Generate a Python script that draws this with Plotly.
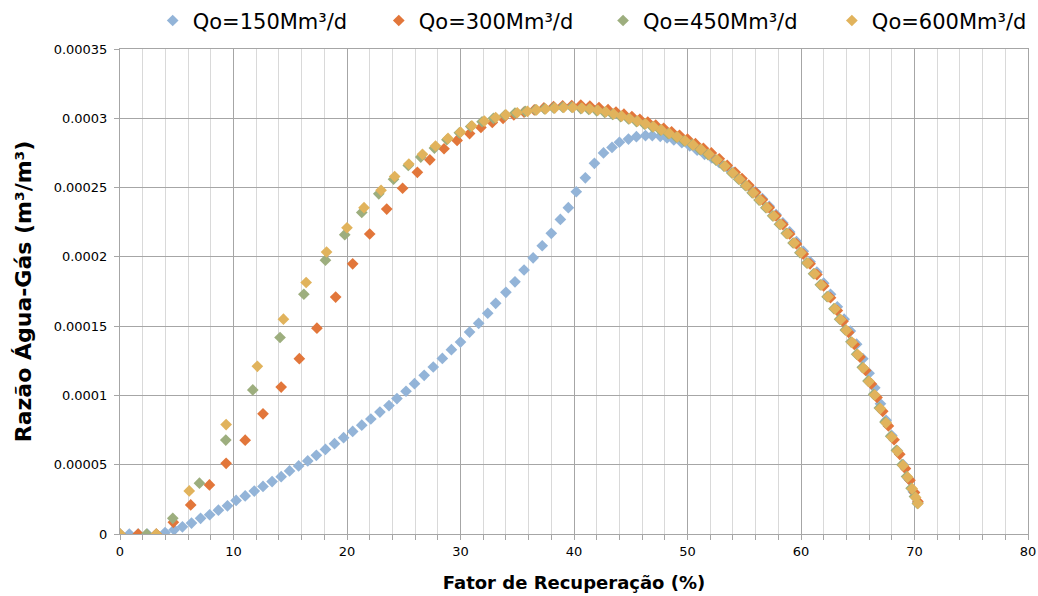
import plotly.graph_objects as go

SCALE = 1e-5  # y values below are given in units of 1e-5 m3/m3

series_names = ["Qo=150Mm³/d", "Qo=300Mm³/d", "Qo=450Mm³/d", "Qo=600Mm³/d"]
series_colors = ["#93B4D8", "#E2763A", "#9DAE7E", "#E1B35C"]

x150 = [0, 0.82, 1.6, 2.4, 3.2, 3.97, 4.77, 5.5, 6.3, 7.1, 7.9, 8.67, 9.47, 10.23, 11.03,
        11.83, 12.6, 13.4, 14.2, 14.94, 15.74, 16.54, 17.3, 18.1, 18.9, 19.7, 20.5, 21.3, 22.1, 22.9,
        23.7, 24.4, 25.2, 25.95, 26.8, 27.6, 28.4, 29.2, 30.0, 30.8, 31.6, 32.4, 33.1, 34.0, 34.8,
        35.6, 36.4, 37.2, 38.0, 38.8, 39.5, 40.2, 41.0, 41.8, 42.6, 43.35, 44.0, 44.8, 45.5, 46.3,
        46.9, 47.6, 48.2, 48.8, 49.5, 50.2,
        50.85, 51.5, 52.15, 52.8, 53.45, 54.1, 54.75, 55.4, 56.0, 56.6, 57.2, 57.8, 58.4, 59.0, 59.6,
        60.2, 60.8, 61.4, 62.0, 62.6, 63.2, 63.8, 64.35, 64.9, 65.45, 66.0, 66.5, 67.0, 67.5, 68.0,
        68.5, 69.0, 69.45, 69.9, 70.3]
y150 = [0, 0, 0, 0, 0, 0.1, 0.3, 0.52, 0.79, 1.13, 1.39, 1.72, 2.03, 2.42, 2.75,
        3.1, 3.43, 3.78, 4.14, 4.55, 4.91, 5.27, 5.68, 6.1, 6.52, 6.95, 7.4, 7.85, 8.3, 8.8,
        9.27, 9.77, 10.3, 10.85, 11.45, 12.05, 12.67, 13.3, 13.85, 14.57, 15.2, 15.93, 16.65, 17.44, 18.2,
        19.05, 19.93, 20.8, 21.7, 22.7, 23.55, 24.7, 25.7, 26.75, 27.5, 27.9, 28.27, 28.5, 28.67, 28.75,
        28.75, 28.7, 28.58, 28.44, 28.24, 28.0,
        27.7, 27.4, 27.15, 26.8, 26.5, 26.1, 25.6, 25.1, 24.7, 24.2, 23.65, 23.05, 22.45, 21.8, 21.1,
        20.4, 19.65, 18.9, 18.1, 17.3, 16.4, 15.5, 14.65, 13.7, 12.65, 11.6, 10.55, 9.4, 8.2, 7.1,
        6.0, 5.0, 4.0, 3.05, 2.25]

x300 = [0, 1.6, 3.2, 4.7, 6.23, 7.88, 9.35, 11.03, 12.6, 14.2, 15.8, 17.35, 19.0, 20.5, 22.0,
        23.5, 24.9, 26.2, 27.3, 28.55, 29.7, 30.8, 31.8, 32.8, 33.75, 34.7, 35.6, 36.5, 37.35, 38.2,
        39.0, 39.8,
        40.6, 41.4, 42.2, 43.0, 43.7, 44.4, 45.1, 45.8, 46.5, 47.2, 47.9, 48.6, 49.3, 50.0, 50.7,
        51.4, 52.1, 52.8, 53.5, 54.2, 54.8, 55.4, 56.0, 56.6, 57.2, 57.8, 58.4, 59.0, 59.6, 60.2,
        60.8, 61.4, 62.0, 62.6, 63.2, 63.7, 64.2, 64.7, 65.2, 65.7, 66.2, 66.7, 67.2, 67.7, 68.2,
        68.7, 69.2, 69.6, 70.0, 70.3]
y300 = [0, 0, 0, 0.84, 2.1, 3.54, 5.1, 6.77, 8.67, 10.6, 12.65, 14.85, 17.1, 19.5, 21.65,
        23.45, 24.95, 26.1, 27.0, 27.8, 28.4, 28.9, 29.34, 29.7, 30.0, 30.25, 30.45, 30.6, 30.75, 30.85,
        30.9, 30.92,
        30.95, 30.88, 30.77, 30.62, 30.45, 30.3, 30.12, 29.93, 29.73, 29.5, 29.28, 29.02, 28.77, 28.5, 28.17,
        27.83, 27.5, 27.08, 26.6, 26.1, 25.65, 25.17, 24.65, 24.12, 23.55, 22.96, 22.33, 21.65, 20.93, 20.2,
        19.5, 18.72, 17.9, 17.05, 16.12, 15.35, 14.55, 13.68, 12.77, 11.8, 10.83, 9.85, 8.85, 7.8, 6.8,
        5.75, 4.72, 3.87, 3.0, 2.35]

x450 = [0, 2.35, 4.65, 7.0, 9.32, 11.7, 14.1, 16.2, 18.1, 19.8, 21.3, 22.8, 24.1, 25.4, 26.5,
        27.7, 28.8, 29.9, 30.9, 31.9, 32.9, 33.9, 34.8, 35.7, 36.6, 37.4, 38.2, 39.0, 39.8,
        40.6, 41.3, 42.0, 42.7, 43.4, 44.1, 44.8, 45.5, 46.2, 46.9, 47.6, 48.3, 49.0, 49.7, 50.4,
        51.1, 51.8, 52.5, 53.2, 53.9, 54.5, 55.1, 55.7, 56.3, 56.9, 57.5, 58.1, 58.7, 59.3, 59.9,
        60.5, 61.1, 61.7, 62.3, 62.9, 63.4, 63.9, 64.4, 64.9, 65.4, 65.9, 66.4, 66.9, 67.4, 67.9,
        68.4, 68.9, 69.3, 69.7, 70.0, 70.25]
y450 = [0, 0, 1.13, 3.67, 6.78, 10.4, 14.18, 17.3, 19.76, 21.6, 23.2, 24.55, 25.6, 26.6, 27.2,
        27.85, 28.45, 28.95, 29.4, 29.75, 30.0, 30.22, 30.38, 30.5, 30.6, 30.68, 30.75, 30.8, 30.8,
        30.7, 30.64, 30.54, 30.42, 30.28, 30.12, 29.95, 29.76, 29.57, 29.37, 29.14, 28.89, 28.63, 28.36, 28.1,
        27.73, 27.38, 26.98, 26.55, 26.05, 25.6, 25.13, 24.62, 24.1, 23.55, 22.96, 22.36, 21.7, 21.0, 20.3,
        19.56, 18.78, 17.98, 17.13, 16.26, 15.5, 14.72, 13.87, 12.98, 12.03, 11.05, 10.08, 9.1, 8.08, 7.06,
        6.04, 5.0, 4.15, 3.3, 2.7, 2.2]

x600 = [0, 3.2, 6.1, 9.35, 12.1, 14.4, 16.4, 18.2, 20.0, 21.5, 23.0, 24.2, 25.45, 26.65, 27.8,
        28.9, 30.0, 31.0, 32.1, 33.1, 34.0, 35.0, 35.9, 36.7, 37.5, 38.3, 39.1, 39.9,
        40.7, 41.4, 42.1, 42.8, 43.5, 44.2, 44.9, 45.6, 46.3, 47.0, 47.7, 48.4, 49.1, 49.8, 50.5,
        51.2, 51.9, 52.6, 53.3, 54.0, 54.6, 55.2, 55.8, 56.4, 57.0, 57.6, 58.2, 58.8, 59.4, 60.0,
        60.6, 61.2, 61.8, 62.4, 63.0, 63.5, 64.0, 64.5, 65.0, 65.5, 66.0, 66.5, 67.0, 67.5, 68.0,
        68.5, 69.0, 69.4, 69.8, 70.1, 70.3]
y600 = [0, 0, 3.11, 7.9, 12.1, 15.5, 18.15, 20.35, 22.1, 23.55, 24.8, 25.8, 26.7, 27.4, 28.0,
        28.55, 29.0, 29.45, 29.8, 30.05, 30.25, 30.4, 30.5, 30.6, 30.67, 30.74, 30.78, 30.78,
        30.74, 30.68, 30.58, 30.46, 30.31, 30.15, 29.98, 29.79, 29.6, 29.4, 29.16, 28.91, 28.66, 28.38, 28.08,
        27.75, 27.4, 27.0, 26.55, 26.05, 25.6, 25.13, 24.62, 24.1, 23.55, 22.95, 22.35, 21.67, 21.0, 20.3,
        19.55, 18.78, 17.97, 17.12, 16.25, 15.48, 14.7, 13.83, 12.95, 11.98, 11.0, 10.03, 9.05, 8.02, 7.0,
        5.98, 4.95, 4.1, 3.27, 2.64, 2.2]

x_tick_vals = [0, 10, 20, 30, 40, 50, 60, 70, 80]
y_tick_vals = [0, 0.00005, 0.0001, 0.00015, 0.0002, 0.00025, 0.0003, 0.00035]
y_tick_text = ["0", "0.00005", "0.0001", "0.00015", "0.0002", "0.00025", "0.0003", "0.00035"]

FONT = "DejaVu Sans"

# one legend per series so each entry sits at its own position in a single row
legend_ids = ["legend", "legend2", "legend3", "legend4"]
legend_x = [0.036, 0.285, 0.532, 0.784]

fig = go.Figure()
for name, color, xs, ys, lid in zip(series_names, series_colors,
                                    [x150, x300, x450, x600], [y150, y300, y450, y600], legend_ids):
    fig.add_trace(go.Scatter(
        x=xs, y=[v * SCALE for v in ys], mode="markers", name=name, legend=lid,
        marker=dict(symbol="diamond", size=9, color=color, line=dict(width=0)),
    ))

legend_common = dict(orientation="h", xanchor="left", yref="container", y=0.965, yanchor="middle",
                     font=dict(family=FONT, size=21, color="#000000"),
                     bgcolor="rgba(0,0,0,0)", borderwidth=0)

layout_legends = {lid: dict(x=lx, **legend_common) for lid, lx in zip(legend_ids, legend_x)}

fig.update_layout(
    width=1038, height=596,
    margin=dict(l=120, r=10, t=49, b=62, autoexpand=False),
    paper_bgcolor="white", plot_bgcolor="white",
    font=dict(family=FONT, color="#000000", size=13),
    showlegend=True,
    **layout_legends,
    xaxis=dict(
        range=[0, 80], tickvals=x_tick_vals, ticks="outside", ticklen=5, tickcolor="#a6a6a6",
        showgrid=True, gridcolor="#a6a6a6", gridwidth=1,
        showline=True, linecolor="#a6a6a6", linewidth=1, mirror=True,
        zeroline=False, automargin=False,
        minor=dict(dtick=2, showgrid=True, gridcolor="#d9d9d9", ticks="outside", ticklen=5,
                   tickcolor="#a6a6a6"),
        tickfont=dict(family=FONT, size=13),
        title=dict(text="<b>Fator de Recuperação (%)</b>", font=dict(family=FONT, size=18), standoff=18),
    ),
    yaxis=dict(
        range=[0, 0.00035], tickvals=y_tick_vals, ticktext=y_tick_text,
        ticks="outside", ticklen=5, tickcolor="#a6a6a6", ticklabelstandoff=4,
        showgrid=True, gridcolor="#a6a6a6", gridwidth=1,
        showline=True, linecolor="#a6a6a6", linewidth=1, mirror=True,
        zeroline=False, automargin=False,
        tickfont=dict(family=FONT, size=13),
        title=dict(text="<b>Razão Água-Gás (m³/m³)</b>", font=dict(family=FONT, size=22), standoff=15),
    ),
)

fig.write_html("out.html")
